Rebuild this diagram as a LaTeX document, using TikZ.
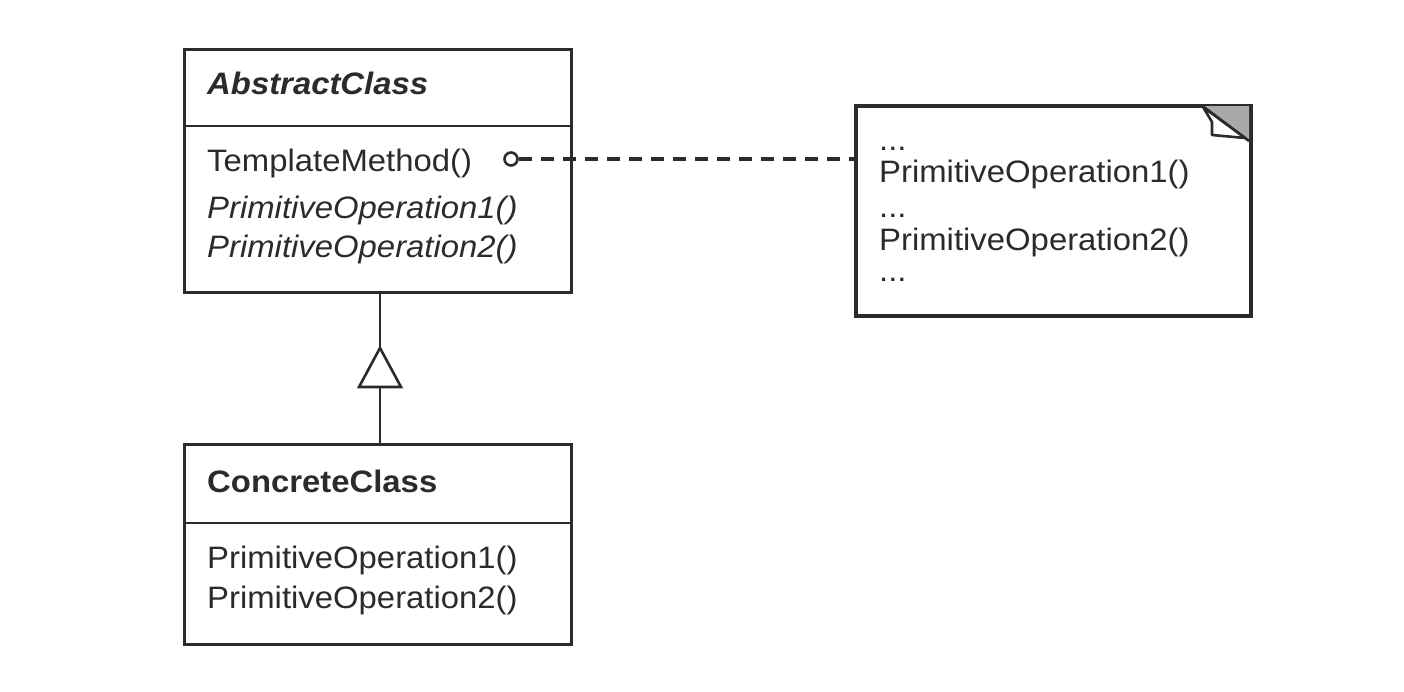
\documentclass[tikz,border=0pt]{standalone}
\usepackage{fontspec}
\setmainfont{Liberation Sans}[FakeStretch=1.06]
\usetikzlibrary{calc}
\definecolor{ink}{HTML}{2B2B2B}
\definecolor{foldgray}{HTML}{A8A8A8}
\begin{document}
\begin{tikzpicture}[x=1pt,y=-1pt,
  box/.style={draw=ink, line width=2.8pt, inner sep=0pt, anchor=north west, fill=white},
  txt/.style={anchor=base west, inner sep=0pt, text=ink, font=\fontsize{31}{37}\selectfont},
  rule/.style={draw=ink, line width=2.8pt},
  conn/.style={draw=ink, line width=2.6pt}]
\useasboundingbox[fill=white] (0,0) rectangle (1404,692);

% abstract class
\node[box, minimum width=387pt, minimum height=243pt] (abstract) at (183,48) {};
\draw[rule] (abstract.west |- 0,126) -- (abstract.east |- 0,126);
\node[txt, font=\fontsize{31}{37}\selectfont\bfseries\itshape] (aname) at (207,95) {AbstractClass};
\node[txt] (tm) at (207,172) {TemplateMethod()};
\node[txt, font=\fontsize{31}{37}\selectfont\itshape] (ap1) at (207,219) {PrimitiveOperation1()};
\node[txt, font=\fontsize{31}{37}\selectfont\itshape] (ap2) at (207,258) {PrimitiveOperation2()};

% concrete class
\node[box, minimum width=387pt, minimum height=200pt] (concrete) at (183,443) {};
\draw[rule] (concrete.west |- 0,523) -- (concrete.east |- 0,523);
\node[txt, font=\fontsize{31}{37}\selectfont\bfseries] (cname) at (207,492) {ConcreteClass};
\node[txt] (cp1) at (207,568) {PrimitiveOperation1()};
\node[txt] (cp2) at (207,608) {PrimitiveOperation2()};

% note with folded corner
\node[box, minimum width=394pt, minimum height=209pt] (note) at (855,105) {};
\fill[foldgray] (1201,105) -- (1249,105) -- (1249,141) -- cycle;
\draw[conn, line join=round] (1201,105) -- (1249,141);
\draw[conn, fill=white, line join=round] (1203,107) -- (1212,122) -- (1212,135) -- (1245,138) -- cycle;
\draw[rule] (note.north west) rectangle (note.south east);
\node[txt] (n1) at (879,151) {...};
\node[txt] (n2) at (879,183) {PrimitiveOperation1()};
\node[txt] (n3) at (879,218) {...};
\node[txt] (n4) at (879,251) {PrimitiveOperation2()};
\node[txt] (n5) at (879,282) {...};

% inheritance
\coordinate (tritop) at (380,348);
\coordinate (tribase) at (380,387);
\draw[conn] (tritop |- abstract.south) -- (tritop);
\draw[conn, line join=miter] (tritop) -- (359,387) -- (401,387) -- cycle;
\draw[conn] (tribase) -- (tribase |- concrete.north);

% note attachment
\node[circle, draw=ink, line width=2.6pt, minimum size=13pt, inner sep=0pt] (dot) at (511,159) {};
\draw[conn, line width=3.2pt, dash pattern=on 13pt off 9pt] (dot.east) -- (dot.east -| note.west);
\end{tikzpicture}
\end{document}
